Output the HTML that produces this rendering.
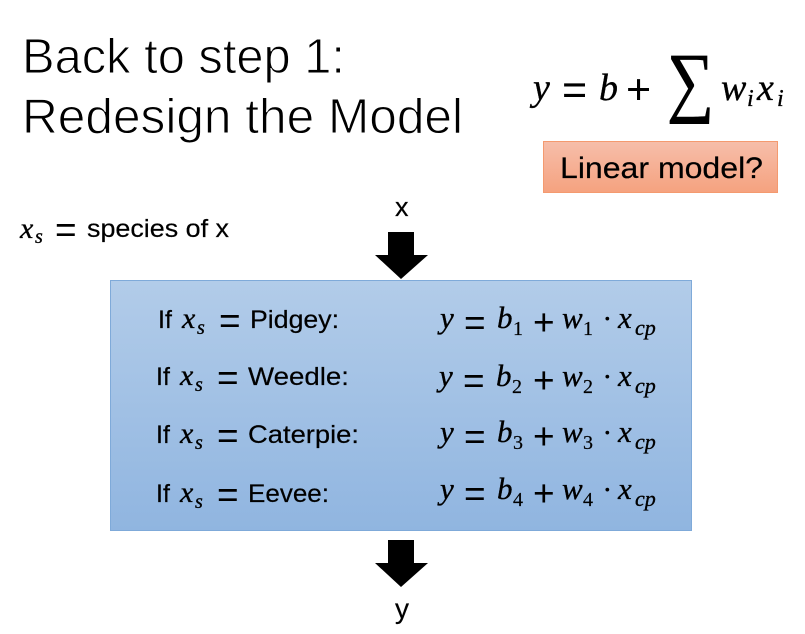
<!DOCTYPE html>
<html><head><meta charset="utf-8"><style>
html,body{margin:0;padding:0;background:#fff;width:805px;height:634px;overflow:hidden}
svg{display:block}
text{font-family:"Liberation Sans",sans-serif;fill:#000;stroke:#000;stroke-width:.2}
.m{font-family:"Liberation Serif",serif;font-style:italic;fill:#000;stroke:#000;stroke-width:.35}
.r{font-family:"Liberation Serif",serif;fill:#000}
.t{font-size:25px}
.e{font-family:"Liberation Sans",sans-serif;font-size:37px;fill:#000;stroke:none}
.s{font-family:"Liberation Serif",serif;font-size:20px;fill:#000}
.h{stroke:#fff;stroke-width:1;fill:#000}
.d{font-family:"Liberation Serif",serif;font-size:32px;stroke:none}
</style></head><body>
<svg width="805" height="634" viewBox="0 0 805 634" xmlns="http://www.w3.org/2000/svg">
<defs>
<linearGradient id="b" x1="0" y1="0" x2="0" y2="1"><stop offset="0" stop-color="#b2cce9"/><stop offset="1" stop-color="#90b5e0"/></linearGradient>
<linearGradient id="o" x1="0" y1="0" x2="0" y2="1"><stop offset="0" stop-color="#f6beaa"/><stop offset="1" stop-color="#f5a27f"/></linearGradient>
</defs>
<text class="h" x="22" y="73" font-size="49" textLength="323" lengthAdjust="spacingAndGlyphs">Back to step 1:</text>
<text class="h" x="22" y="133" font-size="49" textLength="441" lengthAdjust="spacingAndGlyphs">Redesign the Model</text>

<text class="m" x="533" y="100" font-size="38">y</text>
<text class="e" x="562" y="104" style="font-size:43px">=</text>
<text class="m" x="599" y="100" font-size="38">b</text>
<text class="e" x="626" y="104" style="font-size:43px">+</text>
<text class="r" x="667" y="107" font-size="78" textLength="47" lengthAdjust="spacingAndGlyphs" stroke="#000" stroke-width=".8" style="stroke-width:.8">∑</text>
<text class="m" x="721" y="100" font-size="38">w</text>
<text class="m" x="747" y="106" font-size="24">i</text>
<text class="m" x="757" y="100" font-size="38">x</text>
<text class="m" x="777" y="106" font-size="24">i</text>

<rect x="543.5" y="141.5" width="234" height="51" fill="url(#o)" stroke="#f49a6f"/>
<text x="560" y="178" font-size="30" textLength="203" lengthAdjust="spacingAndGlyphs">Linear model?</text>

<text class="m" x="20" y="238" font-size="30">x</text>
<text class="m" x="35" y="243" font-size="20">s</text>
<text class="e" x="55" y="242">=</text>
<text x="87" y="237" font-size="25" textLength="142" lengthAdjust="spacingAndGlyphs">species of x</text>

<text x="395" y="216" font-size="27">x</text>
<polygon points="388,232 414,232 414,255 428,255 401,279 375,255 388,255" fill="#000"/>

<rect x="110.5" y="280.5" width="581" height="250" fill="url(#b)" stroke="#7faad9"/>

<polygon points="388,540 414,540 414,563 428,563 401,587 375,563 388,563" fill="#000"/>
<text x="395" y="618" font-size="28">y</text>

<!-- left column -->
<text class="t" x="158" y="328">If</text><text class="m" x="182" y="328" font-size="30">x</text><text class="m" x="197" y="334" font-size="20">s</text><text class="e" x="219" y="333">=</text><text class="t" x="250" y="328" textLength="89" lengthAdjust="spacingAndGlyphs">Pidgey:</text>
<text class="t" x="156" y="385">If</text><text class="m" x="180" y="385" font-size="30">x</text><text class="m" x="195" y="391" font-size="20">s</text><text class="e" x="217" y="390">=</text><text class="t" x="248" y="385" textLength="101" lengthAdjust="spacingAndGlyphs">Weedle:</text>
<text class="t" x="156" y="443">If</text><text class="m" x="180" y="443" font-size="30">x</text><text class="m" x="195" y="449" font-size="20">s</text><text class="e" x="217" y="448">=</text><text class="t" x="248" y="443" textLength="111" lengthAdjust="spacingAndGlyphs">Caterpie:</text>
<text class="t" x="156" y="502">If</text><text class="m" x="180" y="502" font-size="30">x</text><text class="m" x="195" y="508" font-size="20">s</text><text class="e" x="217" y="507">=</text><text class="t" x="248" y="502" textLength="81" lengthAdjust="spacingAndGlyphs">Eevee:</text>

<!-- right column -->
<g><text class="m" x="440" y="328" font-size="31">y</text><text class="e" x="464" y="335">=</text><text class="m" x="497" y="328" font-size="31">b</text><text class="s" x="513" y="335">1</text><text class="e" x="533" y="335">+</text><text class="m" x="562" y="328" font-size="31">w</text><text class="s" x="583" y="335">1</text><text class="d" x="602" y="329">·</text><text class="m" x="618" y="328" font-size="31">x</text><text class="m" x="635" y="335" font-size="22">cp</text></g>
<g><text class="m" x="439" y="386" font-size="31">y</text><text class="e" x="463" y="393">=</text><text class="m" x="496" y="386" font-size="31">b</text><text class="s" x="512" y="393">2</text><text class="e" x="533" y="393">+</text><text class="m" x="562" y="386" font-size="31">w</text><text class="s" x="583" y="393">2</text><text class="d" x="602" y="387">·</text><text class="m" x="618" y="386" font-size="31">x</text><text class="m" x="635" y="393" font-size="22">cp</text></g>
<g><text class="m" x="440" y="442" font-size="31">y</text><text class="e" x="464" y="449">=</text><text class="m" x="497" y="442" font-size="31">b</text><text class="s" x="513" y="449">3</text><text class="e" x="533" y="449">+</text><text class="m" x="562" y="442" font-size="31">w</text><text class="s" x="583" y="449">3</text><text class="d" x="602" y="443">·</text><text class="m" x="618" y="442" font-size="31">x</text><text class="m" x="635" y="449" font-size="22">cp</text></g>
<g><text class="m" x="440" y="499" font-size="31">y</text><text class="e" x="464" y="506">=</text><text class="m" x="497" y="499" font-size="31">b</text><text class="s" x="513" y="506">4</text><text class="e" x="533" y="506">+</text><text class="m" x="562" y="499" font-size="31">w</text><text class="s" x="583" y="506">4</text><text class="d" x="602" y="500">·</text><text class="m" x="618" y="499" font-size="31">x</text><text class="m" x="635" y="506" font-size="22">cp</text></g>
</svg>
</body></html>
